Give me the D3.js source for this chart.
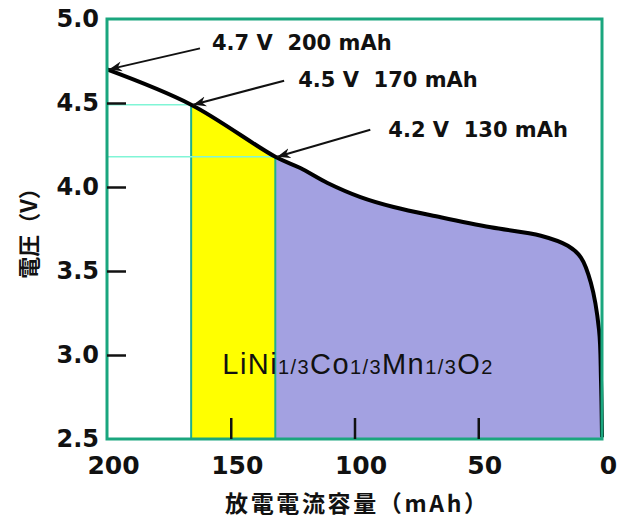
<!DOCTYPE html>
<html>
<head>
<meta charset="utf-8">
<script src="https://cdn.jsdelivr.net/npm/d3@7"></script>
<style>
  body { margin: 0; background: #fff; }
  .lbl { font-family: "DejaVu Sans", Verdana, sans-serif; font-weight: bold; fill: #111; white-space: pre; }
  .cjk { font-family: "Noto Sans CJK JP", sans-serif; font-weight: bold; fill: #111; }
</style>
</head>
<body>
<div id="grafico"></div>
<script>
// dados: capacidade (mAh) e tensão (V)
const capacidade = [200, 166, 132, 121.9, 110.9, 97.6, 84.2, 65.2, 44.9, 24.7, 13.8, 8.5, 4.5, 1.2, 0.4, 0];
const tensao     = [4.70, 4.49, 4.18, 4.113, 4.024, 3.94, 3.881, 3.82, 3.76, 3.71, 3.65, 3.58, 3.43, 3.15, 2.85, 2.51];

const ticksX = [200, 150, 100, 50, 0];
const ticksY = [2.5, 3.0, 3.5, 4.0, 4.5, 5.0];

// faixas sombreadas: [início, fim] em mAh
const faixaAmarela = [166, 132];
const faixaLilas = [132, 0];

// anotações: ponto (mAh, V) e texto
const anotacoes = [
  { mah: 200, v: 4.70, texto: "4.7 V  200 mAh" },
  { mah: 166, v: 4.49, texto: "4.5 V  170 mAh" },
  { mah: 132, v: 4.18, texto: "4.2 V  130 mAh" }
];

function criarGrafico() {
  const largura = 630, altura = 520;
  const margem = { top: 19, right: 28, bottom: 81, left: 107 };
  const w = largura - margem.left - margem.right;
  const h = altura - margem.top - margem.bottom;

  const svg = d3.select("#grafico").append("svg")
    .attr("width", largura).attr("height", altura);

  const defs = svg.append("defs");
  defs.append("marker")
    .attr("id", "seta")
    .attr("viewBox", "0 -6 14 12")
    .attr("refX", 13).attr("refY", 0)
    .attr("markerWidth", 14).attr("markerHeight", 12)
    .attr("markerUnits", "userSpaceOnUse")
    .attr("orient", "auto")
    .append("path")
    .attr("d", "M0,-5 L13,0 L0,5 L4,0 Z")
    .attr("fill", "#111");

  const g = svg.append("g").attr("transform", `translate(${margem.left},${margem.top})`);

  const x = d3.scaleLinear().domain([200, 0]).range([0, w]);
  const y = d3.scaleLinear().domain([2.5, 5.0]).range([h, 0]);

  const dados = capacidade.map((c, i) => ({ c, v: tensao[i] }));

  const curva = d3.curveCatmullRom.alpha(0.5);
  const linha = d3.line().x(d => x(d.c)).y(d => y(d.v)).curve(curva);
  const area = d3.area().x(d => x(d.c)).y0(h).y1(d => y(d.v)).curve(curva);

  // clip para cada faixa (coordenadas do grupo g)
  [["clipAmarelo", faixaAmarela], ["clipLilas", faixaLilas]].forEach(([id, f]) => {
    defs.append("clipPath").attr("id", id)
      .append("rect")
      .attr("x", x(f[0])).attr("y", -margem.top)
      .attr("width", x(f[1]) - x(f[0])).attr("height", altura);
  });

  g.append("path").datum(dados).attr("d", area)
    .attr("fill", "#a3a1e1").attr("clip-path", "url(#clipLilas)");
  g.append("path").datum(dados).attr("d", area)
    .attr("fill", "#ffff00").attr("clip-path", "url(#clipAmarelo)");

  // linhas guia
  anotacoes.slice(1).forEach(a => {
    g.append("line")
      .attr("x1", 0).attr("x2", x(a.mah))
      .attr("y1", y(a.v)).attr("y2", y(a.v))
      .attr("stroke", "#80f5d6").attr("stroke-width", 1.5);
    g.append("line")
      .attr("x1", x(a.mah)).attr("x2", x(a.mah))
      .attr("y1", h).attr("y2", y(a.v))
      .attr("stroke", "#1fae8c").attr("stroke-width", 2);
  });

  // curva de descarga
  g.append("path").datum(dados).attr("d", linha)
    .attr("fill", "none").attr("stroke", "#000").attr("stroke-width", 4)
    .attr("stroke-linejoin", "round");

  // moldura
  g.append("rect").attr("x", 0).attr("y", 0).attr("width", w).attr("height", h)
    .attr("fill", "none").attr("stroke", "#1aa67e").attr("stroke-width", 3);

  // marcas internas dos eixos
  g.append("g")
    .call(d3.axisLeft(y).tickValues(ticksY.slice(1, -1)).tickSizeInner(-19).tickSizeOuter(0).tickFormat(""))
    .call(s => s.select(".domain").remove())
    .selectAll("line").attr("stroke", "#111").attr("stroke-width", 2.5);
  g.append("g").attr("transform", `translate(0,${h})`)
    .call(d3.axisBottom(x).tickValues(ticksX.slice(1, -1)).tickSizeInner(-21).tickSizeOuter(0).tickFormat(""))
    .call(s => s.select(".domain").remove())
    .selectAll("line").attr("stroke", "#111").attr("stroke-width", 2.5);

  // rótulos dos eixos
  g.append("g")
    .call(d3.axisLeft(y).tickValues(ticksY).tickSize(0).tickPadding(8).tickFormat(d3.format(".1f")))
    .call(s => s.select(".domain").remove())
    .selectAll("text").attr("class", "lbl").attr("font-size", 24);
  g.append("g").attr("transform", `translate(0,${h})`)
    .call(d3.axisBottom(x).tickValues(ticksX).tickSize(0).tickPadding(17))
    .call(s => s.select(".domain").remove())
    .selectAll("text").attr("class", "lbl").attr("font-size", 25).attr("dx", 6);

  svg.append("text").attr("class", "cjk")
    .attr("x", 356).attr("y", 512).attr("text-anchor", "middle")
    .attr("font-size", 23).attr("textLength", 262)
    .text("放電電流容量（mAh）");

  svg.append("text").attr("class", "cjk")
    .attr("transform", "translate(37,228) rotate(-90)")
    .attr("text-anchor", "middle").attr("font-size", 22)
    .text("電圧（V）");

  // fórmula
  const formula = g.append("text")
    .attr("x", x(153.4)).attr("y", y(2.887))
    .attr("font-family", "Liberation Sans, Arial, sans-serif")
    .attr("fill", "#111").attr("font-size", 29)
    .attr("textLength", 270).attr("lengthAdjust", "spacing");
  [["LiNi", 29], ["1/3", 20], ["Co", 29], ["1/3", 20], ["Mn", 29], ["1/3", 20], ["O", 29], ["2", 20]]
    .forEach(([t, s]) => formula.append("tspan").attr("font-size", s).text(t));

  // anotações com setas
  const caudas = [[93, -21], [93, -24], [95, -27]];
  const textos = [[105, -19], [107, -18], [113, -20]];
  anotacoes.forEach((a, i) => {
    const px = x(a.mah), py = y(a.v);
    g.append("line")
      .attr("x1", px + caudas[i][0]).attr("y1", py + caudas[i][1])
      .attr("x2", px + 2).attr("y2", py)
      .attr("stroke", "#111").attr("stroke-width", 2)
      .attr("marker-end", "url(#seta)");
    g.append("text").attr("class", "lbl")
      .attr("x", px + textos[i][0]).attr("y", py + textos[i][1])
      .attr("font-size", 21)
      .text(a.texto);
  });
}

criarGrafico();
</script>
</body>
</html>
